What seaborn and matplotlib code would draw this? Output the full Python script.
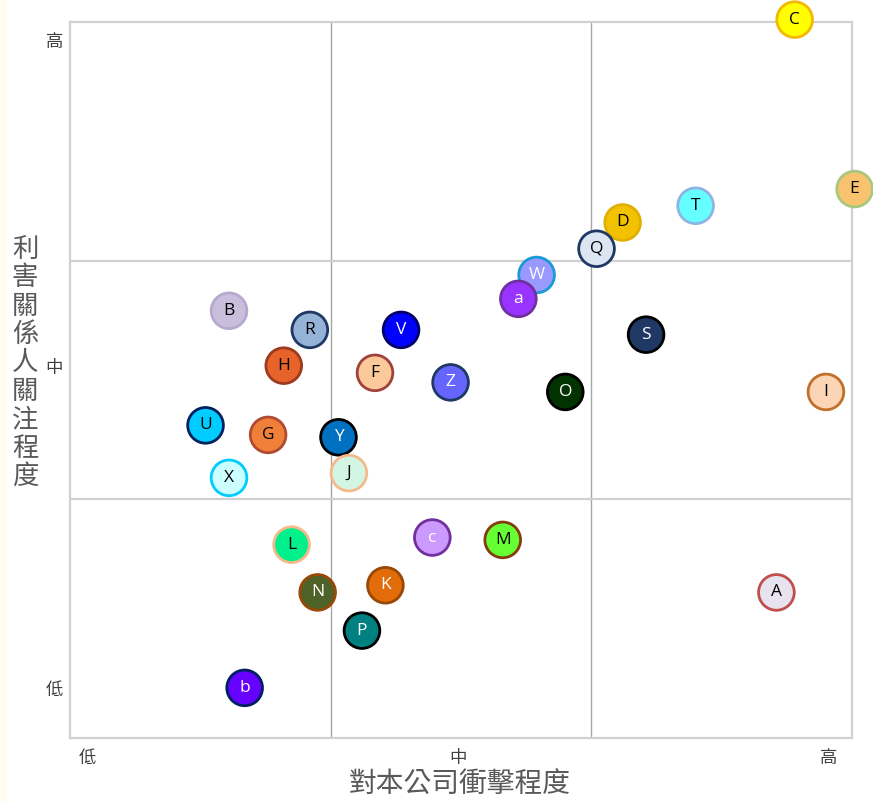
import matplotlib
matplotlib.use("Agg")
import matplotlib.pyplot as plt
import seaborn as sns
import pandas as pd
from matplotlib.patches import Rectangle

labels = ["C", "E", "T", "D", "Q", "W", "a", "S", "B", "R", "V", "H", "F", "Z", "O", "I",
          "U", "G", "Y", "J", "X", "L", "c", "M", "N", "K", "A", "P", "b"]
impact = [2.78, 3.01, 2.40, 2.12, 2.02, 1.79, 1.72, 2.21, 0.61, 0.92, 1.27, 0.82, 1.17, 1.46, 1.90, 2.90,
          0.52, 0.76, 1.03, 1.07, 0.61, 0.85, 1.39, 1.66, 0.95, 1.21, 2.71, 1.12, 0.67]
concern = [3.01, 2.30, 2.23, 2.16, 2.05, 1.94, 1.84, 1.69, 1.79, 1.71, 1.71, 1.56, 1.53, 1.49, 1.45, 1.45,
           1.31, 1.27, 1.26, 1.11, 1.09, 0.81, 0.84, 0.83, 0.61, 0.64, 0.61, 0.45, 0.21]
fills = ["#ffff00", "#f8c26e", "#66ffff", "#f2c200", "#dce6f2", "#9999ff", "#9933ff", "#1f3864",
         "#c9bfdc", "#95b3d7", "#0000ff", "#e8632a", "#fbc99a", "#6666ff", "#003300", "#fbd5b5",
         "#00ccff", "#f07f3a", "#0070c0", "#d3f5e3", "#ccffff", "#00f08c", "#cc99ff", "#66ff33",
         "#4f6228", "#e36c0a", "#e8e4ef", "#008080", "#6600ff"]
edges = ["#f5b800", "#a9c77d", "#8eb4e3", "#e0b000", "#1f3864", "#1a9ad6", "#7030a0", "#000000",
         "#b5a9cf", "#1f3864", "#000066", "#9b3a1f", "#a0423c", "#1f3864", "#000000", "#c0702a",
         "#002060", "#b04a30", "#000000", "#f5b98a", "#00ccff", "#f5b98a", "#7030a0", "#843c0c",
         "#984807", "#984807", "#c0504d", "#000000", "#002060"]
text_colors = ["black", "black", "black", "black", "black", "white", "white", "white",
               "black", "black", "white", "black", "black", "white", "white", "black",
               "black", "black", "white", "black", "black", "black", "white", "black",
               "white", "white", "black", "white", "white"]
x_ticks = [0.065, 1.49, 2.91]
x_tick_labels = ["低", "中", "高"]
y_ticks = [0.21, 1.56, 2.925]
y_tick_labels = ["低", "中", "高"]
x_title = "對本公司衝擊程度"
y_title = "利害關係人關注程度"

df = pd.DataFrame({"label": labels, "impact": impact, "concern": concern})

sns.set_theme(style="white")
plt.rcParams["font.family"] = ["Noto Sans CJK TC", "DejaVu Sans"]

fig = plt.figure(figsize=(8.73, 8.02), dpi=100)
fig.patch.set_facecolor("white")
fig.patches.append(Rectangle((0, 0), 7 / 873, 1, transform=fig.transFigure,
                             facecolor="#fffdf0", edgecolor="none", zorder=0))
ax = fig.add_axes([70 / 873, 64 / 802, 782 / 873, 716 / 802])
ax.set_xlim(0, 3)
ax.set_ylim(0, 3)

ax.axvline(1, color="#a6a6a6", lw=1.0, zorder=1)
ax.axvline(2, color="#a6a6a6", lw=1.0, zorder=1)
ax.axhline(1, color="#d0d0d0", lw=1.6, zorder=1)
ax.axhline(2, color="#d0d0d0", lw=1.6, zorder=1)

sns.scatterplot(data=df, x="impact", y="concern", hue="label",
                palette=dict(zip(labels, fills)), edgecolor=edges, linewidth=2.0,
                s=660, legend=False, ax=ax, clip_on=False, zorder=3)

for lab, xv, yv, tc in zip(labels, impact, concern, text_colors):
    ax.text(xv, yv, lab, ha="center", va="center", color=tc, fontsize=12.5,
            family=["Open Sans", "DejaVu Sans"], zorder=4, clip_on=False)

for sp in ax.spines.values():
    sp.set_color("#d0d0d0")
    sp.set_linewidth(1.6)

ax.set_xticks(x_ticks)
ax.set_xticklabels(x_tick_labels)
ax.set_yticks(y_ticks)
ax.set_yticklabels(y_tick_labels)
ax.tick_params(axis="both", length=0, labelsize=12.5, colors="#404040")
ax.tick_params(axis="x", pad=8)
ax.tick_params(axis="y", pad=5)
ax.set_xlabel("")
ax.set_ylabel("")

fig.text(460 / 873, 1 - 784 / 802, x_title, ha="center", va="center",
         fontsize=20, color="#595959")
fig.text(25 / 873, 1 - 363 / 802, "\n".join(y_title), ha="center", va="center",
         fontsize=19, color="#595959", linespacing=1.07)

fig.savefig("out.png", dpi=100)
